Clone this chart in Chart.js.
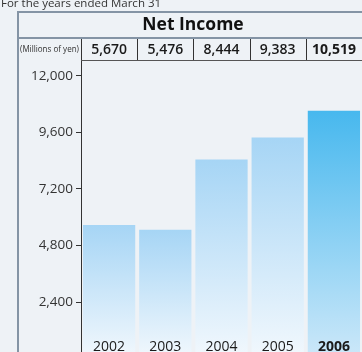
<!DOCTYPE html>
<html><head><meta charset="utf-8">
<script src="https://cdn.jsdelivr.net/npm/chart.js@4/dist/chart.umd.min.js"></script>
<style>
html,body{margin:0;padding:0;background:#eef2f6;overflow:hidden;width:362px;height:352px}
#wrap{position:absolute;left:0;top:0;width:372px;height:370px}
</style></head><body>
<div id="wrap"><canvas id="c" width="372" height="370"></canvas></div>
<script>
const years = ['2002', '2003', '2004', '2005', '2006'];
const netIncome = [5670, 5476, 8444, 9383, 10519];
const yTicks = [2400, 4800, 7200, 9600, 12000];
const highlightYear = '2006';
const titleText = 'Net Income';
const unitText = '(Millions of yen)';
const noteText = 'For the years ended March 31';

const FONT = "'Open Sans', 'Noto Sans', sans-serif";
const fmt = v => v.toLocaleString('en-US');

const tablePlugin = {
  id: 'table',
  beforeDraw(chart) {
    const c = chart.ctx;
    c.save();
    c.fillStyle = '#eef2f6';
    c.fillRect(0, 0, chart.width, chart.height);
    c.restore();
  },
  afterDatasetsDraw(chart) {
    const c = chart.ctx, x = chart.scales.x, area = chart.chartArea;
    const step = x.getPixelForValue(1) - x.getPixelForValue(0);
    c.save();
    // note text
    c.fillStyle = '#333';
    c.font = "11.5px " + FONT;
    c.textAlign = 'left'; c.textBaseline = 'alphabetic';
    c.fillText(noteText, 1, 7);
    // box frame
    const boxL = 18, boxT = 12, boxR = 368;
    c.fillStyle = '#8494a5';
    c.fillRect(boxL - 1, boxT - 1, 2, chart.height);
    c.fillRect(boxL - 1, boxT - 1, boxR - boxL + 2, 2);
    c.fillRect(boxL - 1, 37, boxR - boxL + 2, 2);
    // title
    c.fillStyle = '#111';
    c.font = "bold 17.5px " + FONT;
    c.textAlign = 'center'; c.textBaseline = 'middle';
    c.fillText(titleText, (boxL + boxR) / 2, 25);
    // header row bottom line
    c.fillStyle = '#555';
    c.fillRect(area.left, 60, area.right - area.left + 10, 1);
    // separators
    c.fillStyle = '#333';
    for (let i = 0; i < years.length; i++) {
      const px = Math.round(x.getPixelForValue(i) - step / 2);
      c.fillRect(px, 39, 1, 21);
    }
    // unit text
    c.save();
    c.fillStyle = '#333';
    c.font = "8.5px " + FONT;
    const w = c.measureText(unitText).width;
    c.translate(20, 50);
    c.scale(59 / w, 1);
    c.textAlign = 'left'; c.textBaseline = 'middle';
    c.fillText(unitText, 0, 0);
    c.restore();
    // header values and year labels
    c.fillStyle = '#1a1a1a';
    netIncome.forEach((v, i) => {
      const cx = x.getPixelForValue(i);
      const hl = years[i] === highlightYear;
      c.font = (hl ? 'bold ' : '600 ') + '14px ' + FONT;
      c.textAlign = 'center'; c.textBaseline = 'middle';
      c.fillText(fmt(v), cx, 50);
      c.font = (hl ? 'bold ' : '') + '14px ' + FONT;
      c.textBaseline = 'alphabetic';
      c.fillText(years[i], cx, 351);
    });
    c.restore();
  }
};

new Chart(document.getElementById('c'), {
  type: 'bar',
  data: {
    labels: years,
    datasets: [{
      data: netIncome,
      borderWidth: 0,
      categoryPercentage: 1,
      barPercentage: 0.93,
      backgroundColor: ctx => {
        const ch = ctx.chart, area = ch.chartArea;
        if (!area || !ch.scales.y) return '#a6d5f5';
        const top = ch.scales.y.getPixelForValue(ctx.raw);
        const bot = ch.scales.y.getPixelForValue(0);
        const g = ch.ctx.createLinearGradient(0, top, 0, bot);
        if (years[ctx.dataIndex] === highlightYear) {
          g.addColorStop(0, '#47b8ee'); g.addColorStop(1, '#cde8f9');
        } else {
          g.addColorStop(0, '#a6d5f5'); g.addColorStop(1, '#f2f8fd');
        }
        return g;
      }
    }]
  },
  options: {
    responsive: false,
    animation: false,
    devicePixelRatio: 1,
    layout: { padding: { left: 0, right: 10, top: 60, bottom: 11 } },
    plugins: { legend: { display: false }, tooltip: { enabled: false }, title: { display: false } },
    scales: {
      x: { display: false, offset: true },
      y: {
        min: 0, max: 12665,
        afterBuildTicks: s => { s.ticks = yTicks.map(v => ({ value: v })); },
        afterFit: s => { s.width = 81; },
        grid: { drawOnChartArea: false, drawTicks: true, tickLength: 5, color: '#333', tickWidth: 1 },
        border: { display: true, color: '#333', width: 1 },
        ticks: { color: '#333', padding: 3, font: { family: FONT, size: 13.5 }, callback: v => fmt(v) }
      }
    }
  },
  plugins: [tablePlugin]
});
</script>
</body></html>
